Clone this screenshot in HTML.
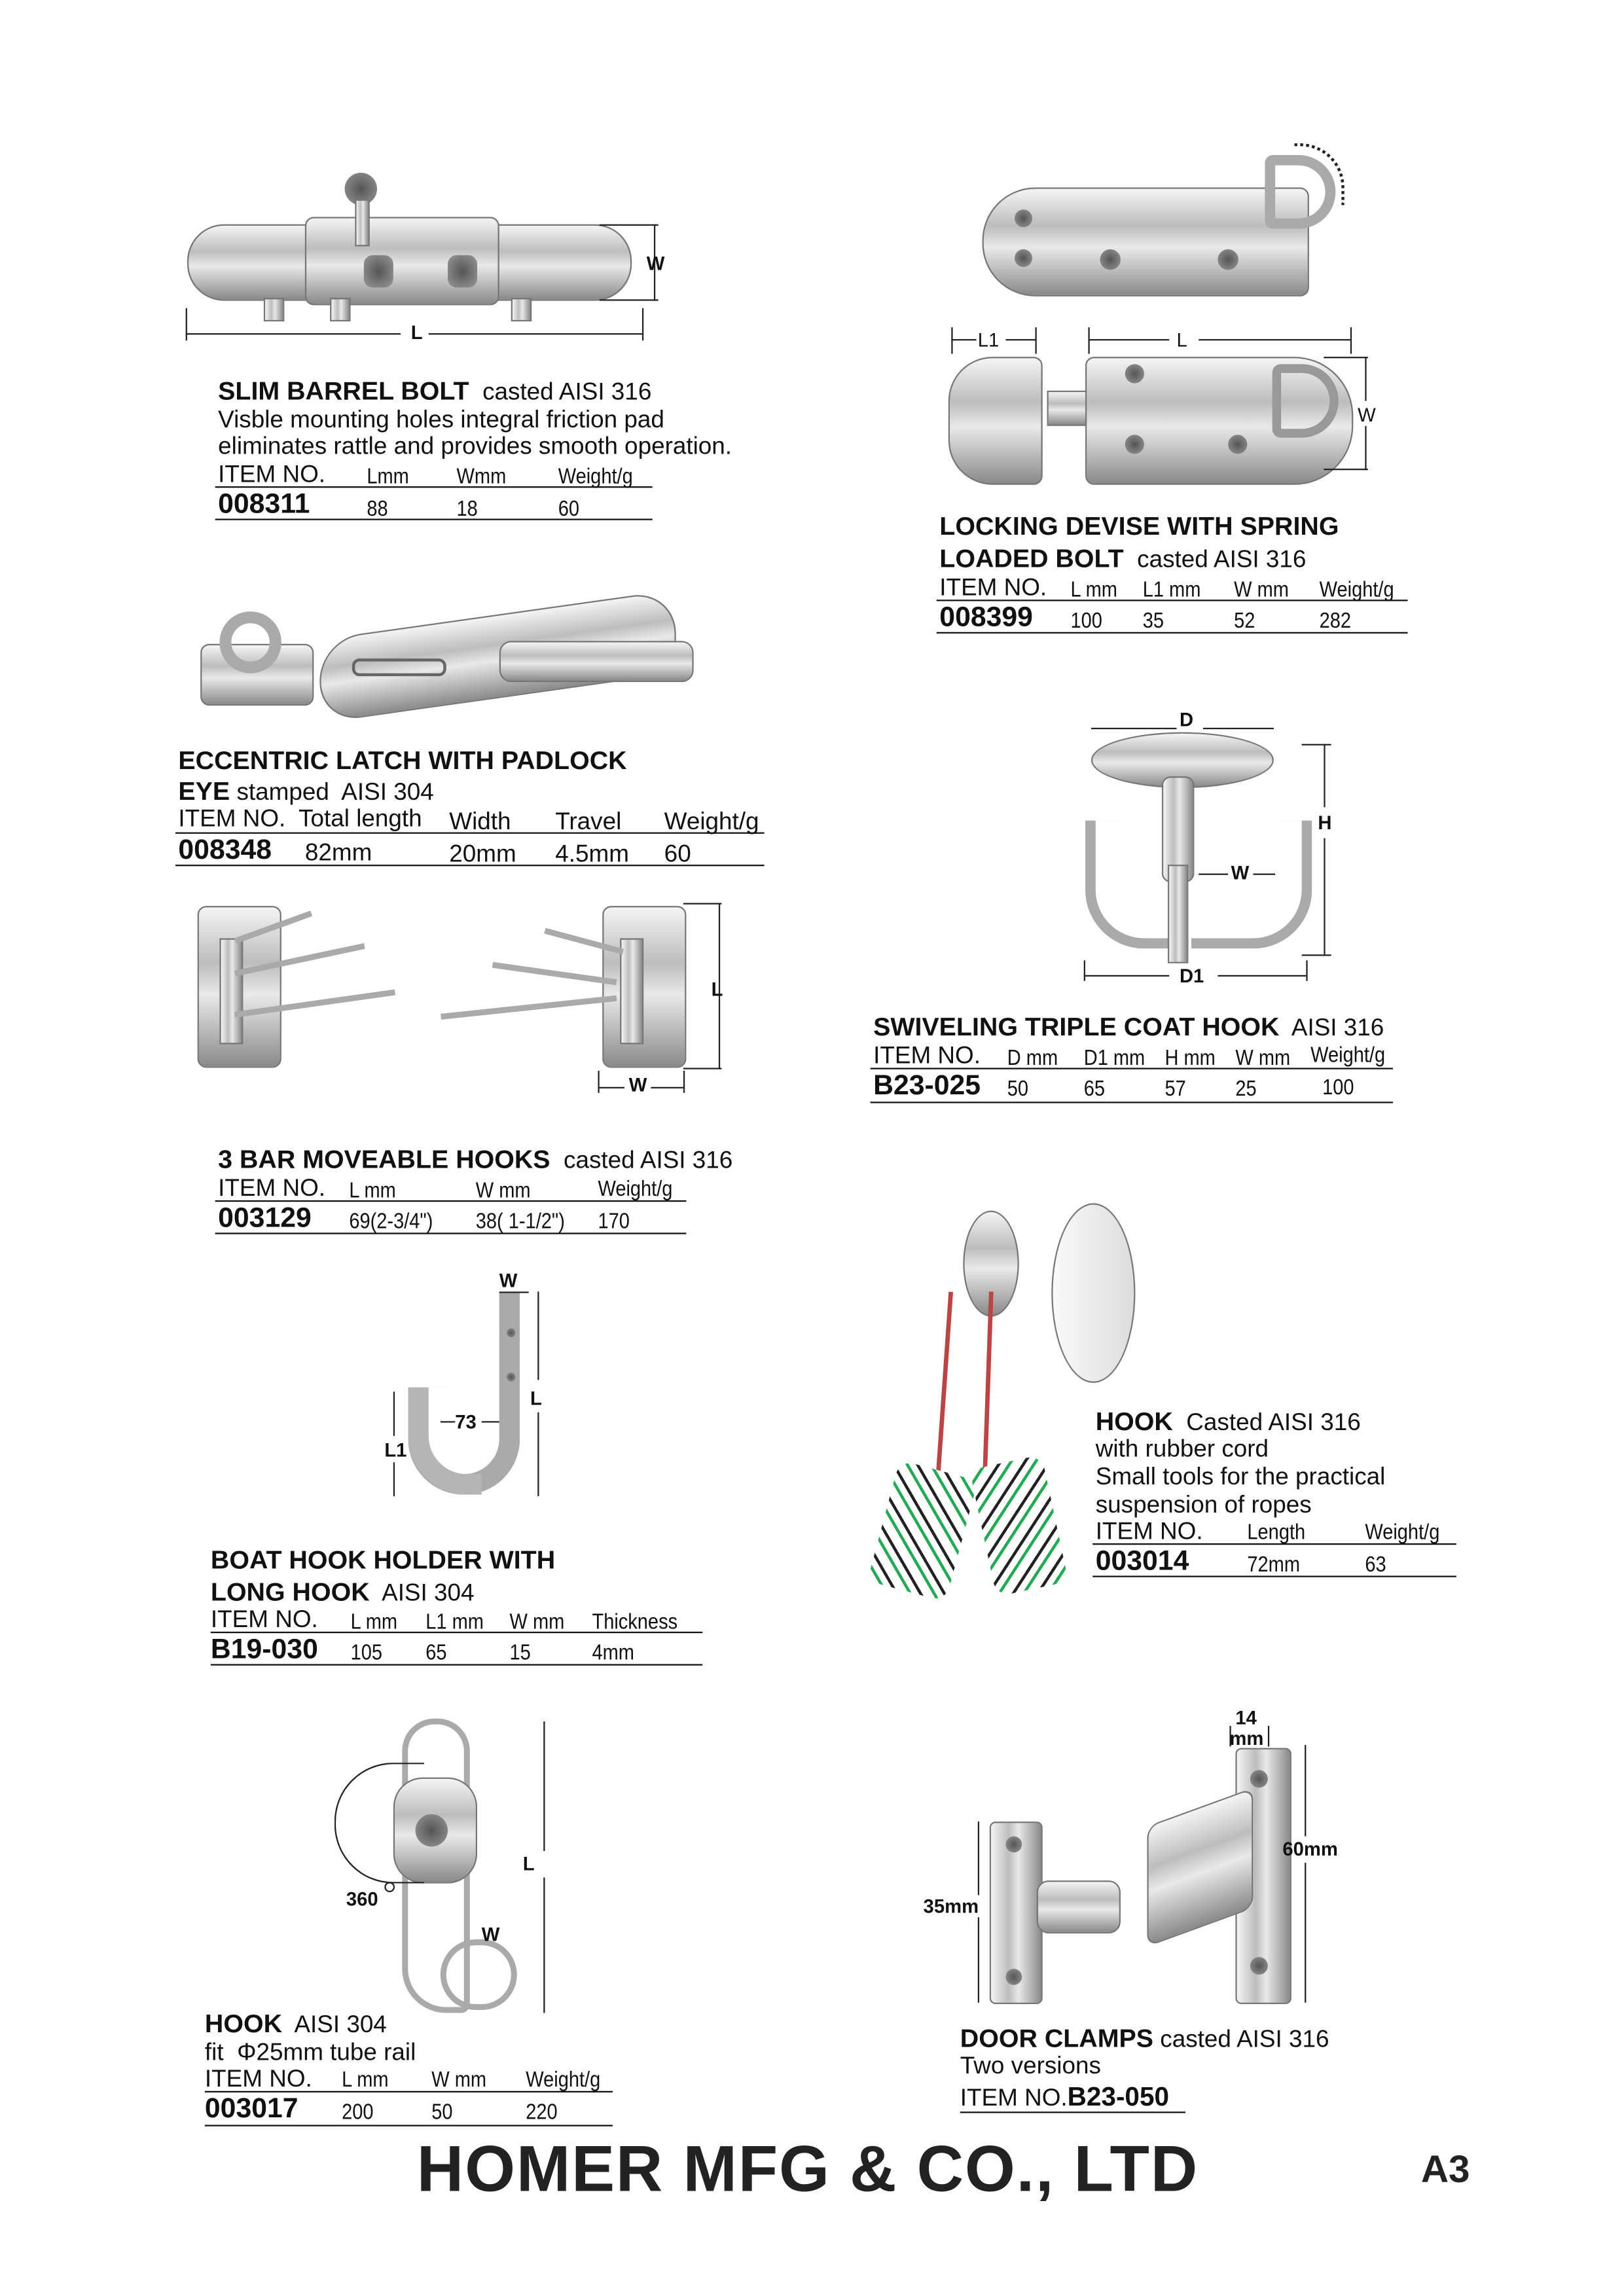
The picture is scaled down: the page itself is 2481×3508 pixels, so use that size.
<!DOCTYPE html>
<html><head><meta charset="utf-8"><style>
html,body{margin:0;padding:0;background:#fff;}
body{width:2481px;height:3508px;overflow:hidden;position:relative;}
#w{position:absolute;left:-2px;top:-6px;width:1103px;height:1560px;transform:scale(2.2493);transform-origin:0 0;font-family:"Liberation Sans",Arial,sans-serif;color:#111;}
.t{position:absolute;white-space:nowrap;font-size:16.4px;line-height:18px;}
.b{font-weight:bold;font-size:17.5px;}
.c{position:absolute;white-space:nowrap;font-size:15px;line-height:18px;transform:scaleX(.86);transform-origin:0 0;}
.id{position:absolute;white-space:nowrap;font-weight:bold;font-size:19px;line-height:20px;}
.ln{position:absolute;height:1.2px;background:#111;}
.d{position:absolute;background:#222;}
.lb{position:absolute;font-weight:bold;font-size:13px;line-height:14px;}
.m{position:absolute;background:linear-gradient(180deg,#f4f4f4 0%,#bdbdbd 35%,#e9e9e9 55%,#8a8a8a 100%);border:1px solid #777;}
.mv{position:absolute;background:linear-gradient(90deg,#f4f4f4 0%,#bdbdbd 35%,#e9e9e9 55%,#8a8a8a 100%);border:1px solid #777;}
.h{position:absolute;border-radius:50%;background:radial-gradient(#555,#999);}
</style></head><body><div id="w">

<!-- 1 slim barrel bolt -->
<div class="m" style="left:128px;top:155px;width:300px;height:50px;border-radius:25px;"></div>
<div class="m" style="left:208px;top:150px;width:130px;height:58px;border-radius:6px;"></div>
<div class="h" style="left:235px;top:120px;width:22px;height:22px;"></div>
<div class="mv" style="left:242px;top:138px;width:8px;height:30px;"></div>
<div class="h" style="left:248px;top:176px;width:20px;height:22px;border-radius:6px;"></div>
<div class="h" style="left:305px;top:176px;width:20px;height:22px;border-radius:6px;"></div>
<div class="mv" style="left:180px;top:205px;width:12px;height:14px;"></div>
<div class="mv" style="left:225px;top:205px;width:12px;height:14px;"></div>
<div class="mv" style="left:348px;top:205px;width:12px;height:14px;"></div>
<div class="d" style="left:445px;top:155px;width:1px;height:52px;"></div>
<div class="d" style="left:408px;top:155px;width:40px;height:1px;"></div>
<div class="d" style="left:408px;top:206px;width:40px;height:1px;"></div>
<div class="lb" style="left:440px;top:175px;">W</div>
<div class="d" style="left:127px;top:229px;width:146px;height:1px;"></div>
<div class="d" style="left:292px;top:229px;width:145px;height:1px;"></div>
<div class="d" style="left:127px;top:212px;width:1px;height:22px;"></div>
<div class="d" style="left:437px;top:212px;width:1px;height:22px;"></div>
<div class="lb" style="left:280px;top:222px;">L</div>

<div class="t" style="left:149px;top:259px;"><span class="b">SLIM BARREL BOLT</span>&nbsp; casted AISI 316</div>
<div class="t" style="left:149px;top:279px;">Visble mounting holes integral friction pad</div>
<div class="t" style="left:149px;top:297px;">eliminates rattle and provides smooth operation.</div>
<div class="t" style="left:149px;top:316px;">ITEM NO.</div>
<div class="c" style="left:250px;top:318px;">Lmm</div><div class="c" style="left:311px;top:318px;">Wmm</div><div class="c" style="left:380px;top:318px;">Weight/g</div>
<div class="ln" style="left:147px;top:333px;width:297px;"></div>
<div class="id" style="left:149px;top:336px;">008311</div>
<div class="c" style="left:250px;top:340px;">88</div><div class="c" style="left:311px;top:340px;">18</div><div class="c" style="left:380px;top:340px;">60</div>
<div class="ln" style="left:147px;top:355px;width:297px;"></div>

<!-- 2 locking devise -->
<div class="m" style="left:668px;top:130px;width:220px;height:72px;border-radius:36px 6px 6px 36px;"></div>
<div class="h" style="left:690px;top:145px;width:12px;height:12px;"></div>
<div class="h" style="left:690px;top:172px;width:12px;height:12px;"></div>
<div class="h" style="left:748px;top:172px;width:14px;height:14px;"></div>
<div class="h" style="left:828px;top:172px;width:14px;height:14px;"></div>
<div style="position:absolute;left:860px;top:108px;width:48px;height:50px;border:7px solid #aaa;border-radius:6px 28px 28px 6px;box-sizing:border-box;"></div>
<div style="position:absolute;left:880px;top:100px;width:32px;height:40px;border:2px dotted #222;border-left:none;border-bottom:none;border-radius:0 30px 0 0;"></div>
<div class="m" style="left:645px;top:245px;width:62px;height:85px;border-radius:30px 6px 6px 30px;"></div>
<div class="m" style="left:712px;top:268px;width:40px;height:22px;"></div>
<div class="m" style="left:738px;top:245px;width:180px;height:85px;border-radius:6px 40px 40px 6px;"></div>
<div class="h" style="left:765px;top:250px;width:13px;height:13px;"></div>
<div class="h" style="left:765px;top:298px;width:13px;height:13px;"></div>
<div class="h" style="left:835px;top:298px;width:13px;height:13px;"></div>
<div style="position:absolute;left:865px;top:250px;width:45px;height:50px;border:6px solid #999;border-radius:6px 26px 26px 6px;box-sizing:border-box;"></div>
<div class="d" style="left:647px;top:233px;width:17px;height:1px;"></div><div class="d" style="left:684px;top:233px;width:20px;height:1px;"></div>
<div class="d" style="left:647px;top:225px;width:1px;height:18px;"></div><div class="d" style="left:704px;top:225px;width:1px;height:18px;"></div>
<div class="t" style="left:665px;top:225px;font-size:13px;">L1</div>
<div class="d" style="left:740px;top:233px;width:55px;height:1px;"></div><div class="d" style="left:815px;top:233px;width:103px;height:1px;"></div>
<div class="d" style="left:740px;top:225px;width:1px;height:18px;"></div><div class="d" style="left:918px;top:225px;width:1px;height:18px;"></div>
<div class="t" style="left:800px;top:225px;font-size:13px;">L</div>
<div class="d" style="left:928px;top:245px;width:1px;height:30px;"></div><div class="d" style="left:928px;top:292px;width:1px;height:30px;"></div>
<div class="d" style="left:900px;top:245px;width:30px;height:1px;"></div><div class="d" style="left:900px;top:321px;width:30px;height:1px;"></div>
<div class="t" style="left:923px;top:276px;font-size:13px;">W</div>

<div class="t" style="left:639px;top:351px;"><span class="b">LOCKING DEVISE WITH SPRING</span></div>
<div class="t" style="left:639px;top:373px;"><span class="b">LOADED BOLT</span>&nbsp; casted AISI 316</div>
<div class="t" style="left:639px;top:393px;">ITEM NO.</div>
<div class="c" style="left:728px;top:395px;">L mm</div><div class="c" style="left:777px;top:395px;">L1 mm</div><div class="c" style="left:839px;top:395px;">W mm</div><div class="c" style="left:897px;top:395px;">Weight/g</div>
<div class="ln" style="left:637px;top:410px;width:320px;"></div>
<div class="id" style="left:639px;top:413px;">008399</div>
<div class="c" style="left:728px;top:416px;">100</div><div class="c" style="left:777px;top:416px;">35</div><div class="c" style="left:839px;top:416px;">52</div><div class="c" style="left:897px;top:416px;">282</div>
<div class="ln" style="left:637px;top:432px;width:320px;"></div>

<!-- 3 eccentric latch -->
<div class="m" style="left:137px;top:440px;width:75px;height:40px;border-radius:6px;"></div>
<div style="position:absolute;left:150px;top:418px;width:42px;height:42px;border:8px solid #aaa;border-radius:50%;box-sizing:border-box;"></div>
<div class="m" style="left:218px;top:420px;width:240px;height:55px;border-radius:28px 30px 20px 28px;transform:skewY(-8deg);"></div>
<div class="m" style="left:340px;top:438px;width:130px;height:26px;border-radius:8px;"></div>
<div style="position:absolute;left:240px;top:450px;width:60px;height:8px;border:2px solid #666;border-radius:5px;"></div>

<div class="t" style="left:122px;top:510px;"><span class="b">ECCENTRIC LATCH WITH PADLOCK</span></div>
<div class="t" style="left:122px;top:531px;"><span class="b">EYE</span> stamped&nbsp; AISI 304</div>
<div class="t" style="left:122px;top:550px;">ITEM NO.&nbsp; Total length</div>
<div class="t" style="left:306px;top:552px;">Width</div><div class="t" style="left:378px;top:552px;">Travel</div><div class="t" style="left:452px;top:552px;">Weight/g</div>
<div class="ln" style="left:120px;top:568px;width:400px;"></div>
<div class="id" style="left:122px;top:571px;">008348</div>
<div class="t" style="left:208px;top:573px;">82mm</div><div class="t" style="left:306px;top:574px;">20mm</div><div class="t" style="left:378px;top:574px;">4.5mm</div><div class="t" style="left:452px;top:574px;">60</div>
<div class="ln" style="left:120px;top:590px;width:400px;"></div>

<!-- 4 swivel hook -->
<div class="m" style="left:742px;top:500px;width:122px;height:36px;border-radius:50%;"></div>
<div class="mv" style="left:790px;top:530px;width:20px;height:70px;border-radius:6px;"></div>
<div style="position:absolute;left:738px;top:560px;width:60px;height:80px;border:7px solid #aaa;border-top:none;border-right:none;border-radius:0 0 0 40px;"></div>
<div style="position:absolute;left:810px;top:560px;width:75px;height:80px;border:7px solid #aaa;border-top:none;border-left:none;border-radius:0 0 40px 0;"></div>
<div class="mv" style="left:794px;top:590px;width:12px;height:65px;"></div>
<div class="d" style="left:742px;top:497px;width:58px;height:1px;"></div><div class="d" style="left:818px;top:497px;width:48px;height:1px;"></div>
<div class="lb" style="left:802px;top:485px;">D</div>
<div class="d" style="left:900px;top:508px;width:1px;height:43px;"></div><div class="d" style="left:900px;top:572px;width:1px;height:80px;"></div>
<div class="d" style="left:885px;top:508px;width:20px;height:1px;"></div><div class="d" style="left:885px;top:651px;width:20px;height:1px;"></div>
<div class="lb" style="left:896px;top:555px;">H</div>
<div class="d" style="left:815px;top:596px;width:20px;height:1px;"></div><div class="d" style="left:852px;top:596px;width:15px;height:1px;"></div>
<div class="lb" style="left:837px;top:589px;">W</div>
<div class="d" style="left:737px;top:665px;width:58px;height:1px;"></div><div class="d" style="left:828px;top:665px;width:60px;height:1px;"></div>
<div class="d" style="left:737px;top:655px;width:1px;height:14px;"></div><div class="d" style="left:888px;top:655px;width:1px;height:14px;"></div>
<div class="lb" style="left:802px;top:659px;">D1</div>

<div class="t" style="left:594px;top:691px;"><span class="b">SWIVELING TRIPLE COAT HOOK</span>&nbsp; AISI 316</div>
<div class="t" style="left:594px;top:711px;">ITEM NO.</div>
<div class="c" style="left:685px;top:713px;">D mm</div><div class="c" style="left:737px;top:713px;">D1 mm</div><div class="c" style="left:792px;top:713px;">H mm</div><div class="c" style="left:840px;top:713px;">W mm</div><div class="c" style="left:891px;top:711px;">Weight/g</div>
<div class="ln" style="left:592px;top:728px;width:355px;"></div>
<div class="id" style="left:594px;top:731px;">B23-025</div>
<div class="c" style="left:685px;top:734px;">50</div><div class="c" style="left:737px;top:734px;">65</div><div class="c" style="left:792px;top:734px;">57</div><div class="c" style="left:840px;top:734px;">25</div><div class="c" style="left:899px;top:733px;">100</div>
<div class="ln" style="left:592px;top:751px;width:355px;"></div>

<!-- 5 3 bar hooks -->
<div class="m" style="left:135px;top:618px;width:55px;height:108px;border-radius:6px;"></div>
<div class="mv" style="left:150px;top:640px;width:14px;height:70px;"></div>
<div style="position:absolute;left:160px;top:640px;width:55px;height:4px;background:#aaa;transform:rotate(-20deg);transform-origin:0 0;"></div>
<div style="position:absolute;left:160px;top:662px;width:90px;height:4px;background:#aaa;transform:rotate(-12deg);transform-origin:0 0;"></div>
<div style="position:absolute;left:160px;top:690px;width:110px;height:4px;background:#aaa;transform:rotate(-8deg);transform-origin:0 0;"></div>
<div class="m" style="left:410px;top:618px;width:55px;height:108px;border-radius:6px;"></div>
<div class="mv" style="left:422px;top:640px;width:14px;height:70px;"></div>
<div style="position:absolute;left:300px;top:685px;width:120px;height:4px;background:#aaa;transform:rotate(-6deg);"></div>
<div style="position:absolute;left:335px;top:662px;width:85px;height:4px;background:#aaa;transform:rotate(8deg);"></div>
<div style="position:absolute;left:370px;top:640px;width:55px;height:4px;background:#aaa;transform:rotate(15deg);"></div>
<div class="d" style="left:489px;top:616px;width:1px;height:113px;"></div>
<div class="d" style="left:465px;top:616px;width:26px;height:1px;"></div><div class="d" style="left:465px;top:728px;width:26px;height:1px;"></div>
<div class="lb" style="left:484px;top:668px;">L</div>
<div class="d" style="left:407px;top:741px;width:18px;height:1px;"></div><div class="d" style="left:443px;top:741px;width:22px;height:1px;"></div>
<div class="d" style="left:407px;top:730px;width:1px;height:15px;"></div><div class="d" style="left:465px;top:730px;width:1px;height:15px;"></div>
<div class="lb" style="left:428px;top:733px;">W</div>

<div class="t" style="left:149px;top:781px;"><span class="b">3 BAR MOVEABLE HOOKS</span>&nbsp; casted AISI 316</div>
<div class="t" style="left:149px;top:801px;">ITEM NO.</div>
<div class="c" style="left:238px;top:803px;">L mm</div><div class="c" style="left:324px;top:803px;">W mm</div><div class="c" style="left:407px;top:802px;">Weight/g</div>
<div class="ln" style="left:147px;top:818px;width:320px;"></div>
<div class="id" style="left:149px;top:821px;">003129</div>
<div class="c" style="left:238px;top:824px;">69(2-3/4")</div><div class="c" style="left:324px;top:824px;">38( 1-1/2")</div><div class="c" style="left:407px;top:824px;">170</div>
<div class="ln" style="left:147px;top:840px;width:320px;"></div>

<!-- 6 boat hook holder -->
<div style="position:absolute;left:278px;top:880px;width:76px;height:138px;border:14px solid #aaa;border-top:none;border-left:none;border-radius:0 0 40px 40px;box-sizing:border-box;"></div>
<div style="position:absolute;left:278px;top:945px;width:50px;height:73px;border:14px solid #b5b5b5;border-top:none;border-right:none;border-radius:0 0 0 40px;box-sizing:border-box;"></div>
<div class="h" style="left:345px;top:905px;width:6px;height:6px;"></div>
<div class="h" style="left:345px;top:935px;width:6px;height:6px;"></div>
<div class="d" style="left:340px;top:880px;width:20px;height:1px;"></div>
<div class="lb" style="left:340px;top:866px;">W</div>
<div class="d" style="left:366px;top:880px;width:1px;height:60px;"></div><div class="d" style="left:366px;top:962px;width:1px;height:57px;"></div>
<div class="lb" style="left:361px;top:946px;">L</div>
<div class="d" style="left:268px;top:948px;width:1px;height:30px;"></div><div class="d" style="left:268px;top:996px;width:1px;height:23px;"></div>
<div class="lb" style="left:262px;top:981px;">L1</div>
<div class="d" style="left:300px;top:968px;width:10px;height:1px;"></div><div class="d" style="left:328px;top:968px;width:12px;height:1px;"></div>
<div class="lb" style="left:310px;top:962px;">73</div>

<div class="t" style="left:144px;top:1053px;"><span class="b">BOAT HOOK HOLDER WITH</span></div>
<div class="t" style="left:144px;top:1075px;"><span class="b">LONG HOOK</span>&nbsp; AISI 304</div>
<div class="t" style="left:144px;top:1094px;">ITEM NO.</div>
<div class="c" style="left:239px;top:1096px;">L mm</div><div class="c" style="left:290px;top:1096px;">L1 mm</div><div class="c" style="left:347px;top:1096px;">W mm</div><div class="c" style="left:403px;top:1096px;">Thickness</div>
<div class="ln" style="left:144px;top:1111px;width:334px;"></div>
<div class="id" style="left:144px;top:1114px;">B19-030</div>
<div class="c" style="left:239px;top:1117px;">105</div><div class="c" style="left:290px;top:1117px;">65</div><div class="c" style="left:347px;top:1117px;">15</div><div class="c" style="left:403px;top:1117px;">4mm</div>
<div class="ln" style="left:144px;top:1133px;width:334px;"></div>

<!-- 7 hook rubber cord -->
<div class="m" style="left:655px;top:825px;width:36px;height:70px;border-radius:50%;"></div>
<div class="m" style="left:715px;top:820px;width:55px;height:120px;border-radius:50%;background:linear-gradient(90deg,#fafafa,#ddd);"></div>
<div style="position:absolute;left:640px;top:880px;width:3px;height:150px;background:#b44;transform:rotate(4deg);"></div>
<div style="position:absolute;left:670px;top:880px;width:3px;height:150px;background:#b44;transform:rotate(2deg);"></div>
<div style="position:absolute;left:600px;top:1000px;width:55px;height:85px;background:repeating-linear-gradient(45deg,#fff 0 6px,#2a5 6px 8px,#fff 8px 12px,#222 12px 14px);transform:rotate(15deg);border-radius:10px;"></div>
<div style="position:absolute;left:668px;top:995px;width:50px;height:88px;background:repeating-linear-gradient(-45deg,#fff 0 6px,#2a5 6px 8px,#fff 8px 12px,#222 12px 14px);transform:rotate(-12deg);border-radius:10px;"></div>

<div class="t" style="left:745px;top:959px;"><span class="b">HOOK</span>&nbsp; Casted AISI 316</div>
<div class="t" style="left:745px;top:978px;">with rubber cord</div>
<div class="t" style="left:745px;top:997px;">Small tools for the practical</div>
<div class="t" style="left:745px;top:1016px;">suspension of ropes</div>
<div class="t" style="left:745px;top:1034px;">ITEM NO.</div>
<div class="c" style="left:848px;top:1035px;">Length</div><div class="c" style="left:928px;top:1035px;">Weight/g</div>
<div class="ln" style="left:743px;top:1051px;width:247px;"></div>
<div class="id" style="left:745px;top:1054px;">003014</div>
<div class="c" style="left:848px;top:1057px;">72mm</div><div class="c" style="left:928px;top:1057px;">63</div>
<div class="ln" style="left:743px;top:1073px;width:247px;"></div>

<!-- 8 hook 003017 -->
<div style="position:absolute;left:274px;top:1170px;width:46px;height:200px;border:4px solid #aaa;border-radius:22px 22px 6px 30px;box-sizing:border-box;"></div>
<div class="m" style="left:268px;top:1210px;width:55px;height:70px;border-radius:20px;"></div>
<div class="h" style="left:283px;top:1235px;width:22px;height:22px;"></div>
<div style="position:absolute;left:300px;top:1320px;width:52px;height:48px;border:4px solid #aaa;border-radius:26px;box-sizing:border-box;"></div>
<div style="position:absolute;left:228px;top:1200px;width:60px;height:80px;border:1.5px solid #222;border-right:none;border-radius:40px 0 0 40px;"></div>
<div class="lb" style="left:236px;top:1286px;">360</div><div style="position:absolute;left:262px;top:1281px;width:5px;height:5px;border:1px solid #222;border-radius:50%;"></div>
<div class="d" style="left:370px;top:1172px;width:1px;height:88px;"></div><div class="d" style="left:370px;top:1278px;width:1px;height:92px;"></div>
<div class="lb" style="left:356px;top:1262px;">L</div>
<div class="lb" style="left:328px;top:1310px;">W</div>

<div class="t" style="left:140px;top:1368px;"><span class="b">HOOK</span>&nbsp; AISI 304</div>
<div class="t" style="left:140px;top:1388px;">fit &nbsp;Φ25mm tube rail</div>
<div class="t" style="left:140px;top:1406px;">ITEM NO.</div>
<div class="c" style="left:233px;top:1407px;">L mm</div><div class="c" style="left:294px;top:1407px;">W mm</div><div class="c" style="left:358px;top:1407px;">Weight/g</div>
<div class="ln" style="left:140px;top:1423px;width:277px;"></div>
<div class="id" style="left:140px;top:1426px;">003017</div>
<div class="c" style="left:233px;top:1429px;">200</div><div class="c" style="left:294px;top:1429px;">50</div><div class="c" style="left:358px;top:1429px;">220</div>
<div class="ln" style="left:140px;top:1446px;width:277px;"></div>

<!-- 9 door clamps -->
<div class="mv" style="left:673px;top:1240px;width:34px;height:122px;border-radius:4px;"></div>
<div class="h" style="left:684px;top:1250px;width:11px;height:11px;"></div>
<div class="h" style="left:684px;top:1340px;width:11px;height:11px;"></div>
<div class="m" style="left:705px;top:1280px;width:55px;height:34px;border-radius:8px;"></div>
<div class="mv" style="left:840px;top:1190px;width:36px;height:172px;border-radius:4px;"></div>
<div class="m" style="left:780px;top:1230px;width:70px;height:80px;border-radius:8px;transform:skewY(-20deg);"></div>
<div class="h" style="left:850px;top:1205px;width:12px;height:12px;"></div>
<div class="h" style="left:850px;top:1332px;width:12px;height:12px;"></div>
<div class="d" style="left:665px;top:1240px;width:1px;height:50px;"></div><div class="d" style="left:665px;top:1305px;width:1px;height:58px;"></div>
<div class="lb" style="left:628px;top:1291px;">35mm</div>
<div class="d" style="left:887px;top:1188px;width:1px;height:62px;"></div><div class="d" style="left:887px;top:1268px;width:1px;height:95px;"></div>
<div class="lb" style="left:872px;top:1252px;">60mm</div>
<div class="d" style="left:836px;top:1175px;width:1px;height:14px;"></div><div class="d" style="left:862px;top:1175px;width:1px;height:14px;"></div>
<div class="lb" style="left:840px;top:1163px;">14</div><div class="lb" style="left:836px;top:1177px;">mm</div>

<div class="t" style="left:653px;top:1378px;"><span class="b">DOOR CLAMPS</span> casted AISI 316</div>
<div class="t" style="left:653px;top:1397px;">Two versions</div>
<div class="t" style="left:653px;top:1418px;">ITEM NO.<span style="font-weight:bold;font-size:18px;">B23-050</span></div>
<div class="ln" style="left:653px;top:1437px;width:153px;"></div>

<!-- footer -->
<div style="position:absolute;left:284px;top:1450px;font-weight:bold;font-size:44px;line-height:54px;letter-spacing:0.8px;white-space:nowrap;color:#222;">HOMER MFG &amp; CO., LTD</div>
<div style="position:absolute;left:966px;top:1461px;font-weight:bold;font-size:26px;line-height:30px;color:#222;">A3</div>
</div></body></html>
